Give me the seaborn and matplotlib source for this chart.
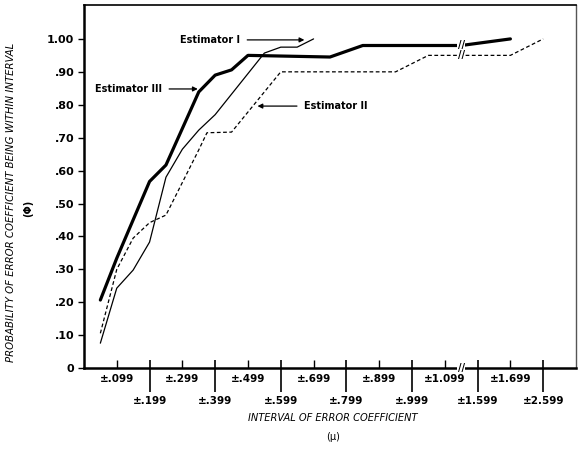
import numpy as np
import matplotlib
matplotlib.use('Agg')
import matplotlib.pyplot as plt
import seaborn as sns

#--------------------------------------------------------
# interval labels, position 1..14 along the x axis
l_interval=['±.099', '±.199', '±.299', '±.399', '±.499', '±.599', '±.699',
	'±.799', '±.899', '±.999', '±1.099', '±1.599', '±1.699', '±2.599']
l_pos=list(range(1, len(l_interval)+1))

# estimator curves (x = interval position, y = probability)
x_est1=[0.5, 1, 1.5, 2, 2.5, 3, 3.5, 4, 5.5, 6, 6.5, 7]
y_est1=[.076, .243, .298, .383, .58, .665, .723, .77, .957, .975, .975, 1.0]

x_est2=[0.5, 1, 1.5, 2, 2.5, 3.5, 3.75, 4.5, 6, 9.5, 10.5, 13, 14]
y_est2=[.106, .30, .395, .442, .465, .663, .715, .717, .90, .90, .95, .95, 1.0]

x_est3=[0.5, 1, 2, 2.5, 3.5, 4, 4.5, 5, 7.5, 8.5, 11.5, 13]
y_est3=[.207, .334, .567, .617, .839, .89, .906, .95, .945, .98, .98, 1.0]

y_ticks=[0, .1, .2, .3, .4, .5, .6, .7, .8, .9, 1.0]
y_ticklabels=['0', '.10', '.20', '.30', '.40', '.50', '.60', '.70', '.80', '.90', '1.00']

#--------------------------------------------------------
sns.set_style('ticks')
plt.rcParams['font.family']=['DejaVu Sans']
plt.rcParams.update({'text.color':'black', 'axes.labelcolor':'black',
	'xtick.color':'black', 'ytick.color':'black', 'axes.edgecolor':'black'})

fig=plt.figure(figsize=(5.83, 4.54), dpi=100)
ax=fig.add_axes([0.144, 0.189, 0.844, 0.800])

sns.lineplot(x=x_est3, y=y_est3, ax=ax, color='black', lw=2.3, estimator=None, sort=False)
sns.lineplot(x=x_est1, y=y_est1, ax=ax, color='black', lw=0.9, estimator=None, sort=False)
sns.lineplot(x=x_est2, y=y_est2, ax=ax, color='black', lw=0.9, estimator=None, sort=False,
	linestyle=(0, (3, 2)))

ax.set_xlim(0, 15)
ax.set_ylim(0, 1.103)

#y axis
ax.set_yticks(y_ticks)
ax.set_yticklabels(y_ticklabels, fontsize=8, weight='bold')
ax.tick_params(axis='y', direction='out', length=4, width=1, pad=3)

#x axis: odd positions on top row, even positions on bottom row
ax.set_xticks(l_pos[1::2])
ax.set_xticklabels(l_interval[1::2], fontsize=7.5, weight='bold')
ax.set_xticks(l_pos[0::2], minor=True)
ax.set_xticklabels(l_interval[0::2], minor=True, fontsize=7.5, weight='bold')
ax.tick_params(axis='x', which='major', direction='out', length=17, width=1.2, pad=3)
ax.tick_params(axis='x', which='minor', direction='in', length=6, width=1, pad=4)
sec=ax.secondary_xaxis('bottom')
sec.set_xticks(l_pos[1::2])
sec.tick_params(direction='in', length=6, width=1.2, labelbottom=False)
sec.spines['bottom'].set_visible(False)

#spines
for s in ['left', 'bottom']:
	ax.spines[s].set_linewidth(1.8)
ax.spines['top'].set_linewidth(1.2)
ax.spines['right'].set_linewidth(1.0)
ax.spines['right'].set_color('#555555')

#break marks
for yb in [0, 0.98, 0.95]:
	ax.text(11.5, yb, '//', ha='center', va='center', fontsize=7, weight='bold',
		bbox=dict(fc='white', ec='none', pad=0.3), clip_on=False, zorder=5)

#annotations
ap=dict(arrowstyle='-|>', color='black', lw=0.9, mutation_scale=7, shrinkA=3, shrinkB=0)
ax.annotate('Estimator I', xy=(6.72, 0.997), xytext=(4.75, 0.997), ha='right', va='center',
	fontsize=7, weight='bold', arrowprops=ap)
ax.annotate('Estimator III', xy=(3.47, 0.848), xytext=(2.37, 0.848), ha='right', va='center',
	fontsize=7, weight='bold', arrowprops=ap)
ax.annotate('Estimator II', xy=(5.29, 0.796), xytext=(6.72, 0.796), ha='left', va='center',
	fontsize=7, weight='bold', arrowprops=ap)

#labels
ax.set_xlabel('')
ax.set_ylabel('')
fig.text(333/583, 1-418/454, 'INTERVAL OF ERROR COEFFICIENT', ha='center', va='center',
	fontsize=7.1, style='italic')
fig.text(333/583, 1-437/454, '(μ)', ha='center', va='center', fontsize=7)
fig.text(11/583, 1-202/454, 'PROBABILITY OF ERROR COEFFICIENT BEING WITHIN INTERVAL',
	ha='center', va='center', rotation=90, fontsize=7.3, style='italic')
fig.text(28/583, 1-208/454, '(Φ)', ha='center', va='center', rotation=90, fontsize=7, weight='bold')

plt.savefig('out.png', dpi=100)
plt.close()
